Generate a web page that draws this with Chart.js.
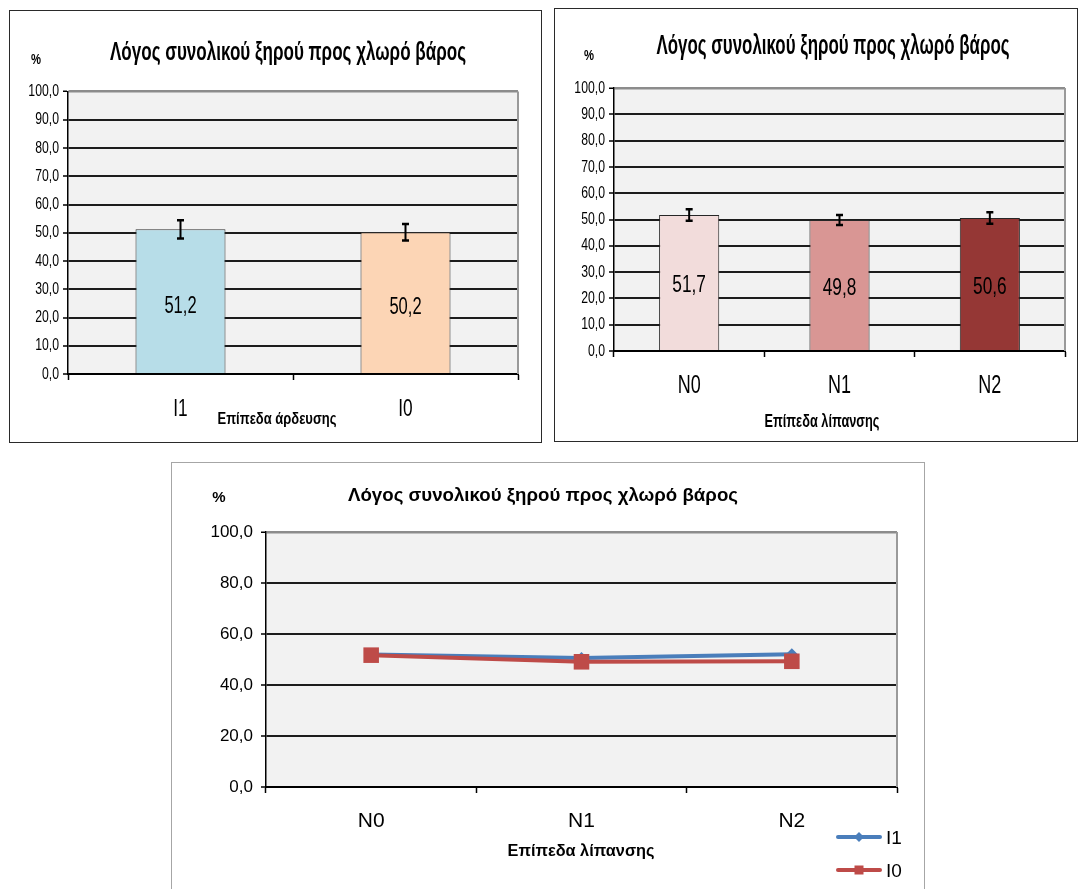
<!DOCTYPE html>
<html><head><meta charset="utf-8">
<script src="https://cdn.jsdelivr.net/npm/chart.js@4.4.0/dist/chart.umd.min.js"></script>
<style>
html,body{margin:0;padding:0;background:#fff;width:1080px;height:889px;overflow:hidden;position:relative;}
.wrap{position:absolute;}
.wrap canvas{position:absolute;left:0;top:0;}
.frame{position:absolute;left:0;top:0;right:0;bottom:0;box-sizing:border-box;pointer-events:none;}
</style></head><body>
<div class="wrap" style="left:9px;top:10px;width:533px;height:433px;"><canvas id="cA" width="533" height="433"></canvas><div class="frame" style="border:1.5px solid #2a2a2a;"></div></div>
<div class="wrap" style="left:554px;top:8px;width:524px;height:434px;"><canvas id="cB" width="524" height="434"></canvas><div class="frame" style="border:1.5px solid #2a2a2a;"></div></div>
<div class="wrap" style="left:171px;top:462px;width:754px;height:440px;"><canvas id="cC" width="754" height="427"></canvas><div class="frame" style="border:1.5px solid #a6a6a6;"></div></div>
<script>
// ---- data ----
const irrigationLevels = ['I1', 'I0'];
const irrigationValues = [51.2, 50.2];
const irrigationErrors = [3.2, 2.9];
const fertLevels = ['N0', 'N1', 'N2'];
const fertValues = [51.7, 49.8, 50.6];
const fertErrors = [2.2, 1.9, 2.2];
const seriesNames = ['I1', 'I0'];
const lineI1 = [52.0, 50.6, 52.1];
const lineI0 = [51.7, 49.1, 49.3];
const titleText = 'Λόγος συνολικού ξηρού προς χλωρό βάρος';
const unitText = '%';
const xTitleIrr = 'Επίπεδα άρδευσης';
const xTitleFert = 'Επίπεδα λίπανσης';

const SANS = "'Liberation Sans', Arial, sans-serif";
const fmt = v => Number(v).toFixed(1).replace('.', ',');

// horizontally condensed text rendering (Arial-Narrow look) for a given canvas
function condensed(canvas, sx) {
  const ctx = canvas.getContext('2d');
  const orig = ctx.fillText.bind(ctx);
  ctx.__sx = sx;
  ctx.fillText = function (text, x, y, maxWidth) {
    const s = ctx.__sx;
    ctx.save();
    ctx.translate(x, y);
    ctx.scale(s, 1);
    if (maxWidth !== undefined) orig(text, 0, 0, maxWidth / s); else orig(text, 0, 0);
    ctx.restore();
  };
  return canvas;
}

// ---- plugins ----
const plotBg = {
  id: 'plotBg',
  beforeDraw(chart) {
    const a = chart.chartArea, ctx = chart.ctx;
    ctx.save();
    ctx.fillStyle = '#f2f2f2';
    ctx.fillRect(a.left, a.top, a.right - a.left, a.bottom - a.top);
    ctx.restore();
  },
  beforeDatasetsDraw(chart) {
    const a = chart.chartArea, ctx = chart.ctx;
    ctx.save();
    ctx.strokeStyle = '#9a9a9a';
    ctx.lineWidth = 2;
    ctx.beginPath();
    ctx.moveTo(a.right, a.top);
    ctx.lineTo(a.right, a.bottom);
    ctx.stroke();
    ctx.restore();
  }
};

const errorBars = {
  id: 'errorBars',
  afterDatasetsDraw(chart, args, opts) {
    if (!opts.errors) return;
    const ctx = chart.ctx, ys = chart.scales.y;
    const meta = chart.getDatasetMeta(0);
    const vals = chart.data.datasets[0].data;
    ctx.save();
    ctx.strokeStyle = '#000';
    meta.data.forEach((bar, i) => {
      const top = ys.getPixelForValue(vals[i] + opts.errors[i]);
      const bot = ys.getPixelForValue(vals[i] - opts.errors[i]);
      ctx.lineWidth = 2;
      ctx.beginPath();
      ctx.moveTo(bar.x, top); ctx.lineTo(bar.x, bot);
      ctx.stroke();
      ctx.lineWidth = 2.5;
      ctx.beginPath();
      ctx.moveTo(bar.x - 3.5, top); ctx.lineTo(bar.x + 3.5, top);
      ctx.moveTo(bar.x - 3.5, bot); ctx.lineTo(bar.x + 3.5, bot);
      ctx.stroke();
    });
    ctx.restore();
  }
};

const barLabels = {
  id: 'barLabels',
  afterDatasetsDraw(chart, args, opts) {
    if (!opts.font) return;
    const ctx = chart.ctx;
    const meta = chart.getDatasetMeta(0);
    const vals = chart.data.datasets[0].data;
    ctx.save();
    ctx.font = opts.font;
    ctx.fillStyle = '#000';
    ctx.textAlign = 'center';
    ctx.textBaseline = 'middle';
    meta.data.forEach((bar, i) => {
      ctx.fillText(fmt(vals[i]), bar.x, (bar.y + bar.base) / 2 + (opts.dy || 0));
    });
    ctx.restore();
  }
};

const texts = {
  id: 'texts',
  afterDraw(chart, args, opts) {
    const ctx = chart.ctx;
    (opts.items || []).forEach(t => {
      ctx.save();
      ctx.font = t.font;
      ctx.fillStyle = '#000';
      ctx.textAlign = t.align || 'center';
      ctx.textBaseline = 'middle';
      const prev = ctx.__sx;
      if (t.width && prev !== undefined) ctx.__sx = t.width / ctx.measureText(t.text).width;
      ctx.fillText(t.text, t.x, t.y);
      if (prev !== undefined) ctx.__sx = prev;
      ctx.restore();
    });
  }
};

const lineLegend = {
  id: 'lineLegend',
  afterDraw(chart, args, opts) {
    if (!opts.x) return;
    const ctx = chart.ctx;
    chart.data.datasets.forEach((ds, i) => {
      const y = opts.y + i * opts.gap;
      const x0 = opts.x, x1 = opts.x + opts.len, xm = (x0 + x1) / 2;
      ctx.save();
      ctx.strokeStyle = ds.borderColor;
      ctx.lineWidth = 4;
      ctx.lineCap = 'round';
      ctx.beginPath(); ctx.moveTo(x0, y); ctx.lineTo(x1, y); ctx.stroke();
      ctx.fillStyle = ds.borderColor;
      if (ds.pointStyle === 'rect') {
        ctx.fillRect(xm - 4.5, y - 4.5, 9, 9);
      } else {
        ctx.beginPath();
        ctx.moveTo(xm, y - 5); ctx.lineTo(xm + 5, y); ctx.lineTo(xm, y + 5); ctx.lineTo(xm - 5, y);
        ctx.closePath(); ctx.fill();
      }
      ctx.font = opts.font;
      ctx.fillStyle = '#000';
      ctx.textAlign = 'left';
      ctx.textBaseline = 'middle';
      ctx.fillText(ds.label, x1 + 6, y + 2);
      ctx.restore();
    });
  }
};

Chart.register(plotBg, errorBars, barLabels, texts, lineLegend);

function yScale(step, tickFont, width, pad) {
  return {
    min: 0, max: 100,
    afterFit: s => { s.width = width; },
    ticks: { stepSize: step, callback: v => fmt(v), font: tickFont, color: '#000', padding: pad },
    grid: {
      color: c => (c.tick && c.tick.value === 100) ? '#8c8c8c' : '#1c1c1c',
      lineWidth: c => (c.tick && c.tick.value === 100) ? 2.5 : 2,
      drawTicks: true, tickLength: 5, tickColor: '#000', tickWidth: 1.5
    },
    border: { display: true, color: '#000', width: 1.5 }
  };
}
function xScale(tickFont, height, pad) {
  return {
    offset: true,
    afterFit: s => { s.height = height; },
    ticks: { font: tickFont, color: '#000', padding: pad },
    grid: { display: true, offset: true, drawOnChartArea: false, drawTicks: true, tickLength: 6, tickColor: '#000', tickWidth: 1.5 },
    border: { display: true, color: '#000', width: 2 }
  };
}
const common = { responsive: false, animation: false, devicePixelRatio: 1 };

// ---- Chart A: irrigation ----
new Chart(condensed(document.getElementById('cA'), 0.72), {
  type: 'bar',
  data: { labels: irrigationLevels, datasets: [{ data: irrigationValues,
    backgroundColor: ['#b7dde8', '#fcd5b5'], borderColor: '#333333', borderWidth: 1,
    categoryPercentage: 1, barPercentage: 0.4 }] },
  options: Object.assign({}, common, {
    layout: { padding: { left: 9, right: 24, top: 81.5, bottom: 19 } },
    scales: {
      x: xScale({ family: SANS, size: 24 }, 50, 15),
      y: yScale(10, { family: SANS, size: 17 }, 50, 4)
    },
    plugins: {
      legend: { display: false }, tooltip: { enabled: false },
      errorBars: { errors: irrigationErrors },
      barLabels: { font: '23px ' + SANS, dy: 5 },
      texts: { items: [
        { text: titleText, x: 279, y: 43, font: 'bold 25px ' + SANS, width: 356 },
        { text: unitText, x: 27, y: 50, font: 'bold 15px ' + SANS, width: 10 },
        { text: xTitleIrr, x: 268, y: 409, font: 'bold 17px ' + SANS, width: 119 }
      ] }
    }
  })
});

// ---- Chart B: fertilization ----
new Chart(condensed(document.getElementById('cB'), 0.72), {
  type: 'bar',
  data: { labels: fertLevels, datasets: [{ data: fertValues,
    backgroundColor: ['#f2dcdb', '#d99694', '#953735'], borderColor: '#262626', borderWidth: 1,
    categoryPercentage: 1, barPercentage: 0.4 }] },
  options: Object.assign({}, common, {
    layout: { padding: { left: 8, right: 13, top: 80, bottom: 41 } },
    scales: {
      x: xScale({ family: SANS, size: 25 }, 50, 14),
      y: yScale(10, { family: SANS, size: 17 }, 52, 4)
    },
    plugins: {
      legend: { display: false }, tooltip: { enabled: false },
      errorBars: { errors: fertErrors },
      barLabels: { font: '24px ' + SANS, dy: 3 },
      texts: { items: [
        { text: titleText, x: 279, y: 39, font: 'bold 27px ' + SANS, width: 353 },
        { text: unitText, x: 35, y: 48, font: 'bold 15px ' + SANS, width: 10 },
        { text: xTitleFert, x: 268, y: 414, font: 'bold 18px ' + SANS, width: 115 }
      ] }
    }
  })
});

// ---- Chart C: interaction lines ----
new Chart(condensed(document.getElementById('cC'), 1), {
  type: 'line',
  data: { labels: fertLevels, datasets: [
    { label: seriesNames[0], data: lineI1, borderColor: '#4a7ebb', backgroundColor: '#4a7ebb', order: 1,
      borderWidth: 4, pointStyle: 'rectRot', pointRadius: 6, pointBorderWidth: 0, tension: 0 },
    { label: seriesNames[1], data: lineI0, borderColor: '#be4b48', backgroundColor: '#be4b48', order: 0,
      borderWidth: 4, pointStyle: 'rect', pointRadius: 11, pointBorderWidth: 0, tension: 0 }
  ] },
  options: Object.assign({}, common, {
    layout: { padding: { left: 15, right: 28, top: 70, bottom: 42 } },
    scales: {
      x: xScale({ family: SANS, size: 21 }, 60, 16),
      y: yScale(20, { family: SANS, size: 17 }, 80, 8)
    },
    plugins: {
      legend: { display: false }, tooltip: { enabled: false },
      lineLegend: { x: 667, y: 375, gap: 33, len: 42, font: '19px ' + SANS },
      texts: { items: [
        { text: titleText, x: 372, y: 34, font: 'bold 19px ' + SANS, width: 390 },
        { text: unitText, x: 48, y: 36, font: 'bold 15px ' + SANS },
        { text: xTitleFert, x: 410, y: 390, font: 'bold 16px ' + SANS, width: 147 }
      ] }
    }
  })
});
</script>
</body></html>
